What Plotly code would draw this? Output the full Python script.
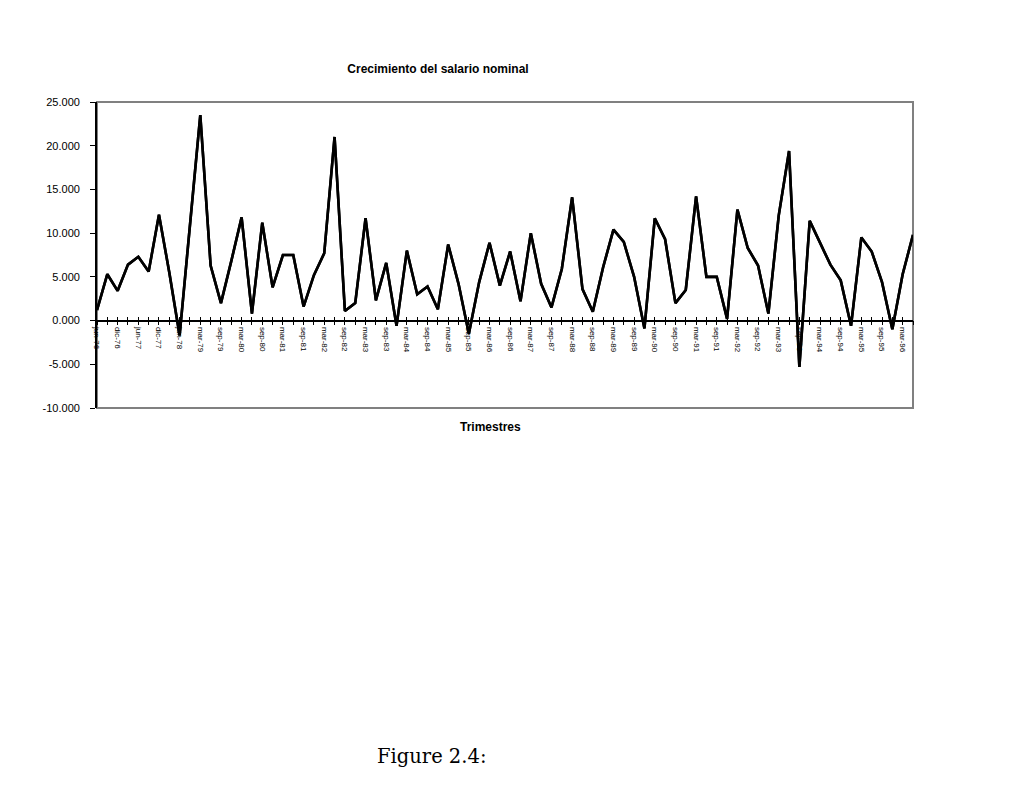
import plotly.graph_objects as go

# Quarterly categories (labels shown every second quarter)
categories = [
    "jun-76", "sep-76", "dic-76", "mar-77", "jun-77", "sep-77", "dic-77", "mar-78",
    "jun-78", "sep-78",
    "mar-79", "jun-79", "sep-79", "dic-79",
    "mar-80", "jun-80", "sep-80", "dic-80",
    "mar-81", "jun-81", "sep-81", "dic-81",
    "mar-82", "jun-82", "sep-82", "dic-82",
    "mar-83", "jun-83", "sep-83", "dic-83",
    "mar-84", "jun-84", "sep-84", "dic-84",
    "mar-85", "jun-85", "sep-85", "dic-85",
    "mar-86", "jun-86", "sep-86", "dic-86",
    "mar-87", "jun-87", "sep-87", "dic-87",
    "mar-88", "jun-88", "sep-88", "dic-88",
    "mar-89", "jun-89", "sep-89", "dic-89",
    "mar-90", "jun-90", "sep-90", "dic-90",
    "mar-91", "jun-91", "sep-91", "dic-91",
    "mar-92", "jun-92", "sep-92", "dic-92",
    "mar-93", "jun-93", "sep-93", "dic-93",
    "mar-94", "jun-94", "sep-94", "dic-94",
    "mar-95", "jun-95", "sep-95", "dic-95",
    "mar-96", "jun-96",
]

salario = [
    1.2, 5.3, 3.4, 6.4, 7.3, 5.6, 12.1, 5.5,
    -1.7, 10.5,
    23.5, 6.3, 2.0, 6.8,
    11.8, 0.8, 11.2, 3.8,
    7.5, 7.5, 1.6, 5.2,
    7.7, 21.0, 1.1, 2.0,
    11.7, 2.3, 6.6, -0.6,
    8.0, 3.0, 3.9, 1.3,
    8.7, 4.2, -1.5, 4.4,
    8.9, 4.0, 7.9, 2.2,
    10.0, 4.2, 1.5, 5.9,
    14.1, 3.6, 1.0, 6.1,
    10.4, 9.0, 5.0, -0.9,
    11.7, 9.3, 2.0, 3.5,
    14.2, 5.0, 5.0, 0.2,
    12.7, 8.3, 6.3, 0.8,
    12.0, 19.4, -5.3, 11.4,
    8.8, 6.4, 4.6, -0.6,
    9.5, 7.9, 4.4, -1.0,
    5.3, 9.8,
]

y_ticks = [-10, -5, 0, 5, 10, 15, 20, 25]
y_ticklabels = ["-10.000", "-5.000", "0.000", "5.000", "10.000", "15.000", "20.000", "25.000"]
title_text = "Crecimiento del salario nominal"
x_title = "Trimestres"
caption = "Figure 2.4:"

idx = list(range(len(categories)))
ticktext = [c if i % 2 == 0 else "" for i, c in enumerate(categories)]
y_min, y_max = y_ticks[0], y_ticks[-1]
zero_pos = (0 - y_min) / (y_max - y_min)

fig = go.Figure()
fig.add_trace(go.Scatter(x=idx, y=salario, mode="lines",
                         line=dict(color="black", width=2.6),
                         showlegend=False, hoverinfo="skip"))
fig.add_trace(go.Scatter(x=idx, y=salario, mode="lines", xaxis="x2",
                         line=dict(color="black", width=2.6),
                         showlegend=False, hoverinfo="skip"))

font_family = "Liberation Sans, Arial, sans-serif"

fig.update_layout(
    width=1018, height=795,
    paper_bgcolor="white", plot_bgcolor="white",
    margin=dict(l=89, r=113, t=94, b=395),
    font=dict(family=font_family, color="black"),
    title=dict(text=title_text, x=430 / 1018, xanchor="center", y=1 - 61 / 795,
               yanchor="middle", font=dict(size=12, family=font_family, weight="bold")),
    xaxis=dict(range=[idx[0], idx[-1]], anchor="free", position=zero_pos,
               showline=True, linecolor="black", linewidth=1.5,
               ticks="outside", ticklen=4, tickwidth=1.2, tickcolor="black",
               tickmode="array", tickvals=idx, ticktext=ticktext,
               tickangle=90, tickfont=dict(size=8, family=font_family),
               showgrid=False, zeroline=False),
    xaxis2=dict(range=[idx[0], idx[-1]], overlaying="x", anchor="free",
                position=zero_pos, showline=False,
                ticks="inside", ticklen=4, tickwidth=1.2, tickcolor="black",
                tickmode="array", tickvals=idx, showticklabels=False,
                showgrid=False, zeroline=False),
    yaxis=dict(range=[y_min, y_max], showline=True, linecolor="black", linewidth=1.8,
               ticks="outside", ticklen=5, tickwidth=1.2, tickcolor="black",
               tickmode="array", tickvals=y_ticks, ticktext=y_ticklabels,
               ticklabelstandoff=8,
               tickfont=dict(size=11, family=font_family),
               showgrid=False, zeroline=False),
    shapes=[dict(type="rect", xref="paper", yref="paper", x0=0, x1=1, y0=0, y1=1,
                 line=dict(color="#808080", width=2), layer="below")],
    annotations=[
        dict(text=x_title, xref="paper", yref="paper", x=0.4828, y=-19 / 306,
             showarrow=False, yanchor="middle",
             font=dict(size=12, family=font_family, weight="bold")),
        dict(text=caption, xref="paper", yref="paper", x=0.4105, y=-1.1405,
             showarrow=False, yanchor="middle",
             font=dict(size=19.5, family="DejaVu Serif, Liberation Serif, serif")),
    ],
)

fig.write_html("out.html")
